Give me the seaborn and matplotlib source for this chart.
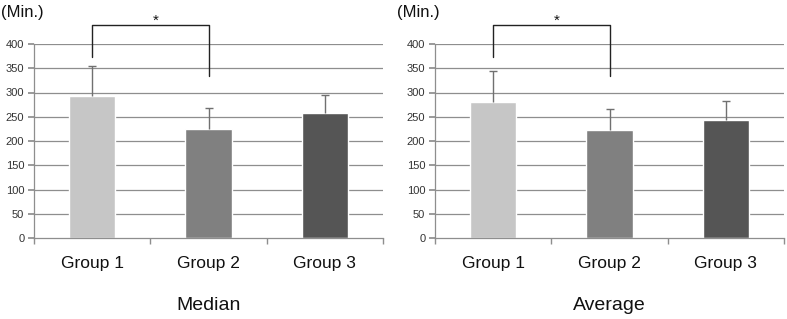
import matplotlib
matplotlib.use("Agg")
import matplotlib.pyplot as plt
import seaborn as sns
import pandas as pd
import numpy as np

groups = ["Group 1", "Group 2", "Group 3"]
median_vals = [292, 224, 257]
median_err = [63, 44, 38]
average_vals = [280, 222, 243]
average_err = [64, 44, 39]
bar_colors = ["#c6c6c6", "#808080", "#555555"]
panel_titles = ["Median", "Average"]
y_ticks = [0, 50, 100, 150, 200, 250, 300, 350, 400]

sns.set_theme(style="white")
plt.rcParams['font.family'] = ['Liberation Sans', 'DejaVu Sans']

fig = plt.figure(figsize=(7.87, 3.19), dpi=100)
axes_pos = [[34/787, 1-238/319, (383-34)/787, (238-44)/319],
            [435/787, 1-238/319, (784-435)/787, (238-44)/319]]

for pos, vals, errs, title in zip(axes_pos, [median_vals, average_vals],
                                  [median_err, average_err], panel_titles):
    ax = fig.add_axes(pos)
    df = pd.DataFrame({"group": groups, "value": vals})
    ax.set_axisbelow(True)
    for t in y_ticks[1:]:
        ax.axhline(t, color="#8e8e8e", lw=0.9, zorder=0)
    sns.barplot(data=df, x="group", y="value", hue="group", palette=bar_colors,
                width=0.4, legend=False, ax=ax, saturation=1, zorder=2)
    xs = np.arange(len(groups))
    tops = np.array(vals) + np.array(errs)
    ax.vlines(xs, vals, tops, color="#707070", lw=1.0, zorder=3)
    ax.plot(xs, tops, ls="none", marker="_", ms=6, mew=1.0, color="#707070", zorder=3)
    ax.set_xlim(-0.5, 2.5)
    ax.set_ylim(0, 400)
    ax.set_yticks(y_ticks)
    ax.set_yticklabels([str(t) for t in y_ticks], fontsize=8, color="#333333")
    ax.set_xticks(xs)
    ax.set_xticklabels(groups, fontsize=12.5, color="#111111")
    ax.set_xticks([-0.5, 0.5, 1.5, 2.5], minor=True)
    ax.tick_params(axis="x", which="major", length=0, pad=13)
    ax.tick_params(axis="x", which="minor", length=4, color="#8e8e8e", direction="out", bottom=True)
    ax.tick_params(axis="y", length=4, color="#8e8e8e", direction="out", left=True, pad=3)
    for s in ["top", "right"]:
        ax.spines[s].set_visible(False)
    for s in ["left", "bottom"]:
        ax.spines[s].set_color("#8e8e8e")
        ax.spines[s].set_linewidth(0.9)
    ax.set_xlabel(title, fontsize=14, labelpad=19, color="#111111")
    ax.set_ylabel("")
    # significance bracket
    ax.plot([0, 0, 1, 1], [374, 439, 439, 335], color="#222222", lw=1.0, clip_on=False, zorder=4)
    ax.text(0.55, 439, "*", ha="center", va="baseline", fontsize=11, color="#111111", clip_on=False)

fig.text(1/787, 1-13/319, "(Min.)", fontsize=12, va="center", ha="left", color="#111111")
fig.text(397/787, 1-13/319, "(Min.)", fontsize=12, va="center", ha="left", color="#111111")

fig.savefig("out.png", dpi=100)
